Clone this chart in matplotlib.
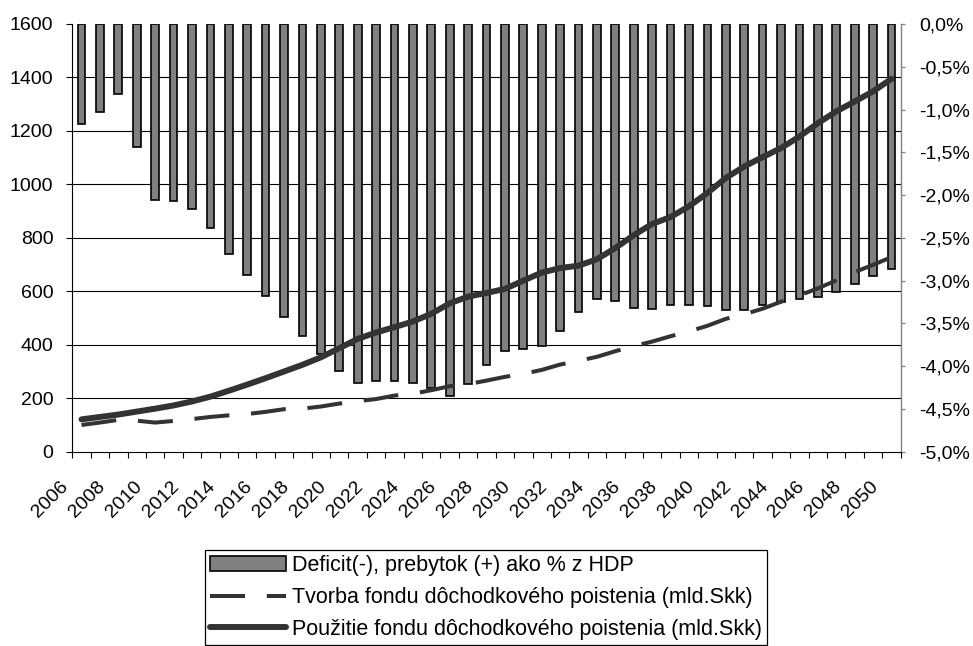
import numpy as np
import matplotlib
matplotlib.use("Agg")
import matplotlib.pyplot as plt
import matplotlib.transforms as mtransforms
from matplotlib.ticker import FuncFormatter

plt.rcParams['font.family'] = ['Liberation Sans', 'DejaVu Sans']

# roky 2006 - 2050
years = list(range(2006, 2051))

# deficit(-) / prebytok(+) ako % z HDP (prava os)
deficit = [-1.17, -1.03, -0.82, -1.44, -2.06, -2.07, -2.16, -2.39, -2.69, -2.94,
           -3.18, -3.43, -3.65, -3.86, -4.06, -4.20, -4.17, -4.17, -4.20, -4.26,
           -4.35, -4.21, -3.99, -3.82, -3.80, -3.76, -3.59, -3.37, -3.22, -3.24,
           -3.32, -3.33, -3.29, -3.28, -3.30, -3.34, -3.34, -3.28, -3.25, -3.22,
           -3.19, -3.13, -3.04, -2.95, -2.86]

# tvorba fondu (mld. Skk, lava os)
tvorba = [100, 109, 119, 116, 109, 115, 122, 130, 136, 141,
          149, 159, 161, 169, 180, 189, 197, 210, 217, 230,
          245, 253, 266, 280, 291, 306, 326, 340, 355, 376,
          395, 412, 432, 450, 471, 497, 514, 535, 561, 585,
          611, 641, 672, 699, 728]

# pouzitie fondu (mld. Skk, lava os)
pouzitie = [121, 130, 139, 150, 161, 173, 188, 206, 228, 251,
            275, 300, 325, 353, 387, 422, 446, 466, 487, 516,
            555, 580, 594, 609, 640, 670, 687, 696, 720, 762,
            810, 852, 878, 918, 968, 1024, 1067, 1102, 1136, 1179,
            1229, 1273, 1310, 1348, 1395]

labels = ['Deficit(-), prebytok (+) ako % z HDP',
          'Tvorba fondu dôchodkového poistenia (mld.Skk)',
          'Použitie fondu dôchodkového poistenia (mld.Skk)']

left_ticks = list(range(0, 1601, 200))
right_ticks = [-5.0, -4.5, -4.0, -3.5, -3.0, -2.5, -2.0, -1.5, -1.0, -0.5, 0.0]

W, H = 973, 646
fig = plt.figure(figsize=(W / 100, H / 100), dpi=100)
ax = fig.add_axes([72.3 / W, 1 - 451.7 / H, (900.7 - 72.3) / W, (451.7 - 24) / H])
ax2 = ax.twinx()
ax.set_zorder(ax2.get_zorder() + 1)
ax.patch.set_visible(False)

x = np.arange(len(years))
ax.set_xlim(-0.5, len(years) - 0.5)
ax.set_ylim(left_ticks[0], left_ticks[-1])
ax2.set_ylim(right_ticks[0], right_ticks[-1])

# mriezka podla lavej osi, kreslena pod stlpcami
lo, hi = ax.get_ylim()
rlo, rhi = ax2.get_ylim()
for v in left_ticks[1:-1]:
    ax2.axhline(rlo + (v - lo) / (hi - lo) * (rhi - rlo), color='black', lw=0.8, zorder=0)

bars = ax2.bar(x, deficit, width=0.42, color='#808080', edgecolor='black',
               linewidth=1.2, zorder=2)

l1, = ax.plot(x, tvorba, color='#333333', lw=2.9, dashes=(8.7, 5.4),
              dash_capstyle='butt')
l2, = ax.plot(x, pouzitie, color='#333333', lw=4.3, solid_capstyle='round',
              solid_joinstyle='round')

# os x - popisky kazdy druhy rok, ciarky na hraniciach kategorii
ax.set_xticks(x[::2])
ax.set_xticklabels([str(y) for y in years[::2]], rotation=45, ha='right', va='top')
ax.set_xticks(np.arange(-0.5, len(years)), minor=True)
ax.tick_params(axis='x', which='major', length=0, pad=18.7, labelsize=14)
ax.tick_params(axis='x', which='minor', length=4, width=0.8, color='black', direction='out')
shift = mtransforms.ScaledTranslation(-0.097, 0, fig.dpi_scale_trans)
for lab in ax.get_xticklabels():
    lab.set_transform(lab.get_transform() + shift)

ax.set_yticks(left_ticks)
ax.tick_params(axis='y', length=4, width=0.8, pad=9.6, labelsize=14, direction='out')

ax2.set_yticks(right_ticks)
ax2.yaxis.set_major_formatter(FuncFormatter(lambda v, p: ('%.1f%%' % v).replace('.', ',').replace('-0,0', '0,0')))
ax2.tick_params(axis='y', length=3.1, width=0.9, color='#808080', labelcolor='black',
                pad=10, labelsize=14, direction='out')

for s in ['top', 'right']:
    ax.spines[s].set_visible(False)
for s in ['top', 'left', 'bottom']:
    ax2.spines[s].set_visible(False)
ax.spines['left'].set_linewidth(0.8)
ax.spines['bottom'].set_linewidth(0.8)
ax2.spines['right'].set_color('#808080')
ax2.spines['right'].set_linewidth(1.0)

leg = fig.legend([bars, l1, l2], labels, loc='upper left',
                 bbox_to_anchor=(205 / W, 1 - 550 / H), frameon=True, fancybox=False,
                 edgecolor='black', framealpha=1, fontsize=15.5, handlelength=3.5,
                 handletextpad=0.28, borderpad=0.25, labelspacing=0.5, borderaxespad=0)
leg.get_frame().set_linewidth(0.9)

fig.savefig('out.png', dpi=100)
